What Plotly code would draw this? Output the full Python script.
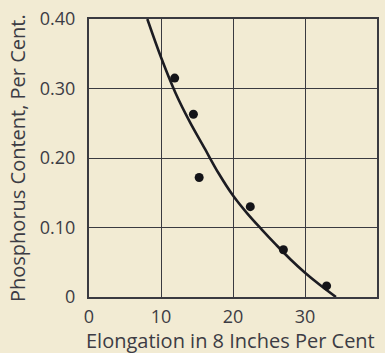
import plotly.graph_objects as go

# Measured specimens: elongation (%) vs phosphorus content (%)
elongation = [11.9, 14.5, 15.3, 22.4, 27.0, 33.0]
phosphorus = [0.315, 0.263, 0.172, 0.130, 0.068, 0.016]

# Hand-drawn mean curve through the specimens
curve_x = [8.1, 10, 12, 14, 16, 18, 20, 22, 24, 26, 28, 30, 32, 34.3]
curve_y = [0.40, 0.345, 0.294, 0.252, 0.215, 0.178, 0.146, 0.120, 0.097, 0.075, 0.054, 0.035, 0.018, 0.0]

x_ticks = [0, 10, 20, 30, 40]
x_tick_text = ["0", "10", "20", "30", "40"]
y_ticks = [0, 0.10, 0.20, 0.30, 0.40]
y_tick_text = ["0", "0.10", "0.20", "0.30", "0.40"]

ink = "#3a3a40"
paper = "#f2ebd3"
tick_font = dict(family="Open Sans, DejaVu Sans, sans-serif", size=18, color="#3c3c44")
title_font = dict(family="Open Sans, DejaVu Sans, sans-serif", size=20, color="#3c3c44")

fig = go.Figure()
fig.add_trace(go.Scatter(
    x=curve_x, y=curve_y, mode="lines",
    line=dict(color="#1c1c22", width=2.6, shape="spline", smoothing=1.0),
    hoverinfo="skip", showlegend=False,
))
fig.add_trace(go.Scatter(
    x=elongation, y=phosphorus, mode="markers",
    marker=dict(color="#141418", size=9),
    showlegend=False,
))

axis_common = dict(
    showline=True, linecolor=ink, linewidth=2, mirror=True,
    showgrid=True, gridcolor=ink, gridwidth=1.4,
    zeroline=False, ticks="", tickfont=tick_font,
)
fig.update_xaxes(range=[0, 40], tickvals=x_ticks, ticktext=x_tick_text,
                 ticklabelstandoff=2, **axis_common)
fig.update_yaxes(range=[0, 0.40], tickvals=y_ticks, ticktext=y_tick_text,
                 ticklabelstandoff=8, **axis_common)

fig.add_annotation(text="Elongation in 8 Inches Per Cent", xref="paper", yref="paper",
                   x=0.49, y=-0.155, xanchor="center", yanchor="middle",
                   showarrow=False, font=title_font)
fig.add_annotation(text="Phosphorus Content, Per Cent.", xref="paper", yref="paper",
                   x=-0.25, y=0.5, xanchor="center", yanchor="middle",
                   textangle=-90, showarrow=False, font=title_font)

fig.update_layout(
    width=385, height=353,
    margin=dict(l=89, r=6, t=16, b=56),
    paper_bgcolor=paper, plot_bgcolor=paper,
)
fig.write_html("out.html")
